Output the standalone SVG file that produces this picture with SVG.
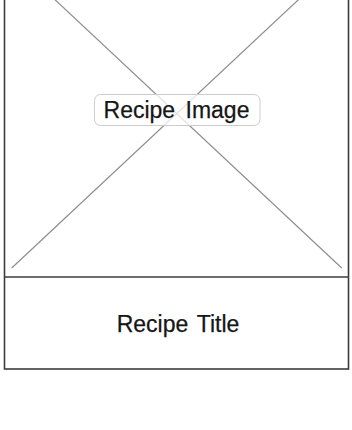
<svg xmlns="http://www.w3.org/2000/svg" width="352" height="430" viewBox="0 0 352 430">
  <style>
    .frame { fill: #ffffff; stroke: #3c3c3c; stroke-width: 1.6; }
    .cross { stroke: #8e8e8e; stroke-width: 1.2; fill: none; }
    .label-box { fill: #ffffff; fill-opacity: 0.75; stroke: #cccccc; stroke-width: 1; }
    .txt { font-family: "Liberation Sans", Arial, Helvetica, sans-serif; font-size: 23px; fill: #161616; stroke: #161616; stroke-width: 0.25; text-anchor: middle; }
  </style>
  <rect width="352" height="430" fill="#ffffff"/>
  <g id="card">
    <rect class="frame" x="4.5" y="-20" width="344" height="389"/>
    <line class="frame" x1="4.5" y1="277" x2="348.5" y2="277"/>
  </g>
  <g id="recipe-image">
    <line class="cross" x1="11.7" y1="-40.8" x2="341.7" y2="268"/>
    <line class="cross" x1="341.7" y1="-40.8" x2="11.7" y2="268"/>
  </g>
  <g id="recipe-image-label">
    <rect class="label-box" x="94.5" y="94.5" width="165.5" height="31" rx="6"/>
    <text class="txt" x="176.5" y="118.3" word-spacing="4">Recipe Image</text>
  </g>
  <g id="recipe-title">
    <text class="txt" x="178" y="332.3" word-spacing="2.5">Recipe Title</text>
  </g>
  <g id="connectors"/>
</svg>
